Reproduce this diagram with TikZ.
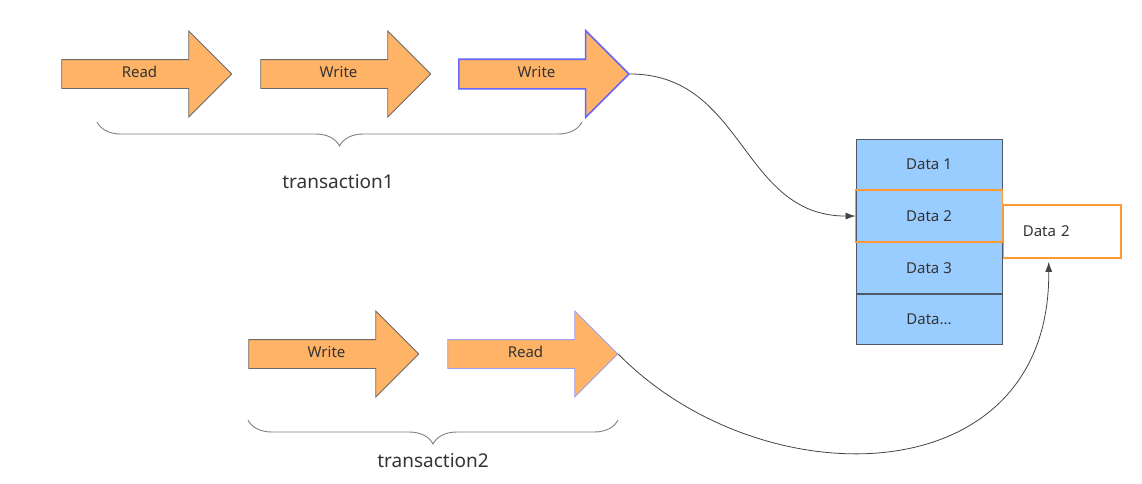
\documentclass[tikz,border=0pt]{standalone}
\usepackage{fontspec}
\setmainfont{Noto Sans}
\usetikzlibrary{arrows.meta,calc,positioning,shapes.arrows,decorations.pathreplacing}
\definecolor{cPijlNen}{HTML}{FFB366}
\definecolor{cPijlRand}{HTML}{6B6B6B}
\definecolor{cPijlBlauw}{HTML}{6666FF}
\definecolor{cPijlLila}{HTML}{9F9FEF}
\definecolor{cTabelNen}{HTML}{99CCFF}
\definecolor{cTabelRand}{HTML}{4F5966}
\definecolor{cOranjeRand}{HTML}{FF9A33}
\definecolor{cTekst}{HTML}{333333}
\definecolor{cLijn}{HTML}{444444}

\begin{document}
\begin{tikzpicture}[
  x=1pt, y=-1pt,
  pijl/.style={
    single arrow, draw=cPijlRand, fill=cPijlNen, line width=0.8pt,
    minimum height=170pt, minimum width=85pt, single arrow head extend=28.5pt,
    inner ysep=7pt, text height=10pt, text depth=4pt,
    font=\fontsize{15}{17}\selectfont, text=cTekst
  },
  cel/.style={
    draw=cTabelRand, fill=cTabelNen, line width=0.9pt,
    minimum width=146pt, minimum height=50.75pt,
    font=\fontsize{15}{17}\selectfont, text=cTekst
  },
  accolade/.style={
    draw=gray, line width=0.9pt,
    decorate, decoration={brace, amplitude=24pt, mirror}
  },
  verbinder/.style={draw=cLijn, line width=0.8pt, -{Latex[length=10pt,width=7pt]}}
]
\useasboundingbox (0,0) rectangle (1142,483);

% ── transaction1 ──
% (de pijlvorm zet de tekst niet in het midden: centrum 7.5 naar links)
\node[pijl] (r1) at (139.5,74) {Read};
\node[pijl] (w1) at (338.5,74) {Write};
\node[pijl, draw=cPijlBlauw, line width=1.6pt] (w2) at (536.5,74) {Write};
\draw[accolade] (97,122) -- (582,122);
\node[font=\fontsize{19}{22}\selectfont, text=cTekst] (t1) at (338,182) {transaction1};

% ── transaction2 ──
\node[pijl] (w3) at (326.5,354) {Write};
\node[pijl, draw=cPijlLila] (r2) at (525.5,354) {Read};
\draw[accolade] (248,420) -- (618,420);
\node[font=\fontsize{19}{22}\selectfont, text=cTekst] (t2) at (433,461) {transaction2};

% ── kopie van Data 2 (eerst, zodat de tabel de linkerrand afdekt) ──
\node[draw=cOranjeRand, fill=white, line width=1.6pt, minimum height=53pt,
      text width=78pt, inner xsep=20pt, align=left,
      font=\fontsize{15}{17}\selectfont, text=cTekst, anchor=west]
  (kopie) at (1002,231.5) {Data 2};

% ── tabel ──
\node[cel] (d1) at (929,164.4) {Data 1};
\node[cel, below=0pt of d1] (d2) {Data 2};
\node[cel, below=0pt of d2] (d3) {Data 3};
\node[cel, below=0pt of d3] (d4) {Data...};
\draw[cOranjeRand, line width=1.6pt] (d2.north west) rectangle (d2.south east);

% ── verbindingen ──
\draw[verbinder] (w2.tip) to[out=0, in=180, looseness=1.1] (d2.west);
\draw[verbinder, shorten >=3pt] (r2.tip) .. controls +(143,146) and +(2,238)
  .. ($(kopie.south west)!0.39!(kopie.south east)$);

\end{tikzpicture}
\end{document}
